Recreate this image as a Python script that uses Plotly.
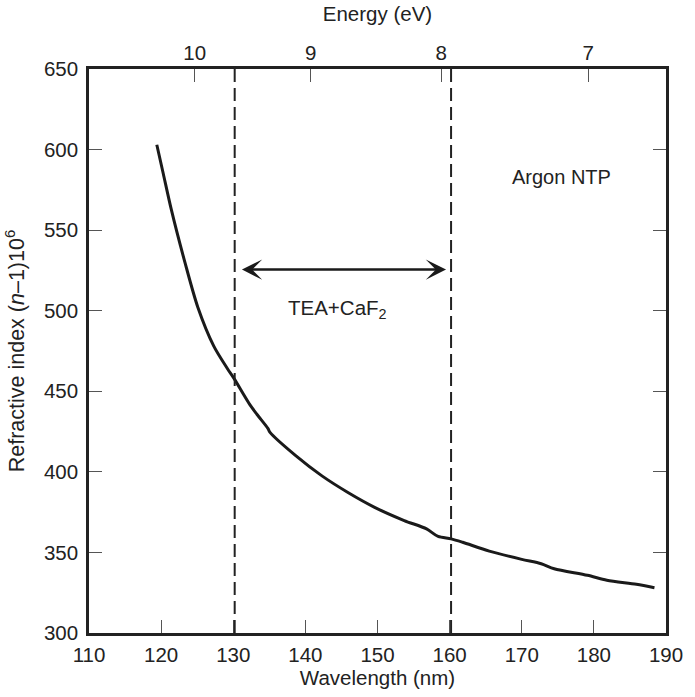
import plotly.graph_objects as go

# Curve: wavelength (nm) vs refractive index (n-1)*1e6
wavelength = [119.4, 120.3, 121.4, 123.3, 125.1, 127.3, 129.2, 130.1, 132.3, 133.3,
              134.8, 135.1, 138.7, 142.3, 145.9, 149.6, 153.7, 156.8, 158.4, 160.2,
              161.8, 165.5, 170.0, 172.7, 174.5, 179.1, 181.8, 185.9, 188.4]
refr_index = [603.0, 585.0, 563.0, 530.0, 502.0, 478.0, 464.0, 458.0, 441.7, 435.6,
              427.0, 424.5, 409.9, 397.5, 387.2, 378.0, 369.8, 364.6, 359.9, 358.4,
              356.3, 350.8, 345.7, 343.0, 339.9, 335.8, 332.7, 330.2, 328.1]

x_ticks = [110, 120, 130, 140, 150, 160, 170, 180, 190]
y_ticks = [300, 350, 400, 450, 500, 550, 600, 650]

# Energy axis (top): tick positions expressed in wavelength (as drawn in the figure)
energy_tick_wl = [124.66, 140.75, 158.83, 179.2]
energy_tick_text = ["10", "9", "8", "7"]

# Band limits (dashed) and arrow
band_wl = [130.2, 160.2]
arrow_y = 525.5
arrow_x = [131.0, 159.5]

FONT = "Liberation Sans, Arial, Helvetica, sans-serif"
DARK = "#222222"
TICK = "#555555"
FS = 20.5

fig = go.Figure()
fig.add_trace(go.Scatter(x=wavelength, y=refr_index, mode="lines",
                         line=dict(color="#1a1a1a", width=3, shape="spline", smoothing=0.8),
                         showlegend=False, hoverinfo="skip"))
# invisible trace to activate top axis
fig.add_trace(go.Scatter(x=[110, 190], y=[300, 300], xaxis="x2", mode="markers",
                         marker=dict(opacity=0), showlegend=False, hoverinfo="skip"))

for bx in band_wl:
    fig.add_shape(type="line", x0=bx, x1=bx, y0=300, y1=650, xref="x", yref="y",
                  line=dict(color=DARK, width=2, dash="13px,6px"))

fig.add_annotation(x=arrow_x[1], y=arrow_y, ax=arrow_x[0], ay=arrow_y,
                   xref="x", yref="y", axref="x", ayref="y", text="",
                   showarrow=True, arrowhead=3, startarrowhead=3, arrowside="end+start",
                   arrowsize=1.35, startarrowsize=1.35, arrowwidth=2.5, arrowcolor="#1a1a1a")

fig.add_annotation(x=144.5, y=501, xref="x", yref="y", text="TEA+CaF<sub>2</sub>",
                   showarrow=False, font=dict(family=FONT, size=20.5, color=DARK))
fig.add_annotation(x=175.5, y=583, xref="x", yref="y", text="Argon NTP",
                   showarrow=False, font=dict(family=FONT, size=20, color=DARK))

axis_common = dict(showgrid=False, zeroline=False, ticks="inside", ticklen=13,
                   tickwidth=1.3, tickcolor=TICK,
                   tickfont=dict(family=FONT, size=FS, color=DARK))

fig.update_layout(
    width=695, height=697,
    margin=dict(l=89, r=18, t=69, b=61),
    paper_bgcolor="white", plot_bgcolor="white",
    xaxis=dict(range=[110, 190], tickvals=x_ticks, showline=True, linewidth=2.5,
               linecolor=DARK, mirror=True, ticklabelstandoff=2,
               title=dict(text="Wavelength (nm)", standoff=4,
                          font=dict(family=FONT, size=FS, color=DARK)),
               **axis_common),
    xaxis2=dict(range=[110, 190], overlaying="x", side="top", tickvals=energy_tick_wl,
                ticktext=energy_tick_text, showline=False, ticklabelstandoff=4,
                title=dict(text="Energy (eV)", standoff=13,
                           font=dict(family=FONT, size=FS, color=DARK)),
                **axis_common),
    yaxis=dict(range=[300, 650], tickvals=y_ticks, showline=True, linewidth=2.5,
               linecolor=DARK, mirror="ticks", ticklabelstandoff=4,
               title=dict(text="Refractive index (<i>n</i>–1)10<sup>6</sup>", standoff=14,
                          font=dict(family=FONT, size=21.5, color=DARK)),
               **axis_common),
)

fig.write_html("out.html")
